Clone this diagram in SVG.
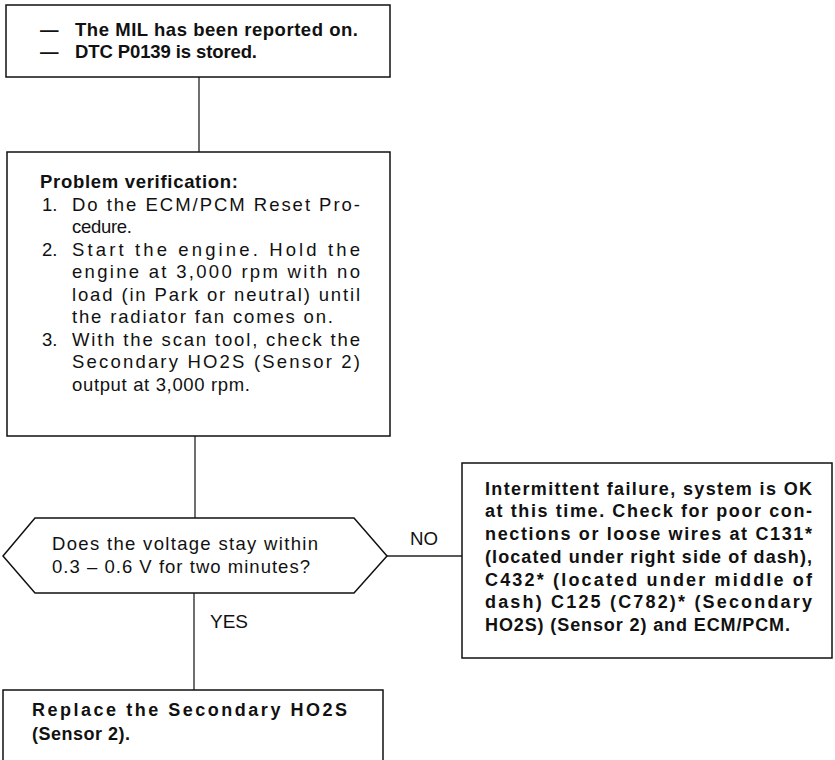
<svg xmlns="http://www.w3.org/2000/svg" width="835" height="760" viewBox="0 0 835 760">
<style>
.box{fill:#fff;stroke:#111;stroke-width:1.5}
.ln{fill:none;stroke:#222;stroke-width:1.3}
.t{font-family:"Liberation Sans",Arial,sans-serif;font-size:18.5px;fill:#111}
.b{font-family:"Liberation Sans",Arial,sans-serif;font-size:18px;font-weight:bold;fill:#111}
.bt{font-family:"Liberation Sans",Arial,sans-serif;font-size:18.5px;font-weight:bold;fill:#111}
</style>
<rect width="835" height="760" fill="#fff"/>
<g id="connectors">
<line class="ln" x1="199" y1="77" x2="199" y2="152"/>
<line class="ln" x1="195" y1="436" x2="195" y2="518"/>
<line class="ln" x1="387" y1="556" x2="462" y2="556"/>
<line class="ln" x1="194" y1="593" x2="194" y2="690"/>
<text class="t" x="410" y="545" textLength="28" lengthAdjust="spacingAndGlyphs">NO</text>
<text class="t" x="210" y="628" textLength="38" lengthAdjust="spacingAndGlyphs">YES</text>
</g>
<g id="start">
<rect class="box" x="6" y="5" width="384" height="72"/>
<text class="bt" x="40" y="36">—</text>
<text class="bt" x="75" y="36" textLength="283" lengthAdjust="spacing">The MIL has been reported on.</text>
<text class="bt" x="40" y="58">—</text>
<text class="bt" x="75" y="58" textLength="182" lengthAdjust="spacing">DTC P0139 is stored.</text>
</g>
<g id="verify">
<rect class="box" x="7" y="152" width="383" height="284"/>
<text class="bt" x="40" y="188" textLength="198" lengthAdjust="spacing">Problem verification:</text>
<text class="t" x="42" y="210.5">1.</text>
<text class="t" x="72" y="210.5" textLength="288" lengthAdjust="spacing">Do the ECM/PCM Reset Pro-</text>
<text class="t" x="72" y="233" textLength="60" lengthAdjust="spacing">cedure.</text>
<text class="t" x="42" y="255.5">2.</text>
<text class="t" x="72" y="255.5" textLength="288" lengthAdjust="spacing">Start the engine. Hold the</text>
<text class="t" x="72" y="278" textLength="288" lengthAdjust="spacing">engine at 3,000 rpm with no</text>
<text class="t" x="72" y="300.5" textLength="288" lengthAdjust="spacing">load (in Park or neutral) until</text>
<text class="t" x="72" y="323" textLength="261" lengthAdjust="spacing">the radiator fan comes on.</text>
<text class="t" x="42" y="345.5">3.</text>
<text class="t" x="72" y="345.5" textLength="288" lengthAdjust="spacing">With the scan tool, check the</text>
<text class="t" x="72" y="368" textLength="288" lengthAdjust="spacing">Secondary HO2S (Sensor 2)</text>
<text class="t" x="72" y="390.5" textLength="178" lengthAdjust="spacing">output at 3,000 rpm.</text>
</g>
<g id="decision">
<polygon class="box" points="3,556 35,518 354,518 387,556 354,593 35,593"/>
<text class="t" x="52" y="550" textLength="266" lengthAdjust="spacing">Does the voltage stay within</text>
<text class="t" x="52" y="573" textLength="258" lengthAdjust="spacing">0.3 – 0.6 V for two minutes?</text>
</g>
<g id="intermittent">
<rect class="box" x="462" y="463" width="370" height="195"/>
<text class="b" x="485" y="495" textLength="327" lengthAdjust="spacing">Intermittent failure, system is OK</text>
<text class="b" x="485" y="517" textLength="327" lengthAdjust="spacing">at this time. Check for poor con-</text>
<text class="b" x="485" y="540" textLength="327" lengthAdjust="spacing">nections or loose wires at C131*</text>
<text class="b" x="485" y="563" textLength="327" lengthAdjust="spacing">(located under right side of dash),</text>
<text class="b" x="485" y="586" textLength="327" lengthAdjust="spacing">C432* (located under middle of</text>
<text class="b" x="485" y="608" textLength="327" lengthAdjust="spacing">dash) C125 (C782)* (Secondary</text>
<text class="b" x="485" y="631" textLength="305" lengthAdjust="spacing">HO2S) (Sensor 2) and ECM/PCM.</text>
</g>
<g id="replace">
<rect class="box" x="3" y="690" width="380" height="80"/>
<text class="b" x="32" y="716" textLength="315" lengthAdjust="spacing">Replace the Secondary HO2S</text>
<text class="b" x="32" y="740" textLength="98" lengthAdjust="spacing">(Sensor 2).</text>
</g>
</svg>
